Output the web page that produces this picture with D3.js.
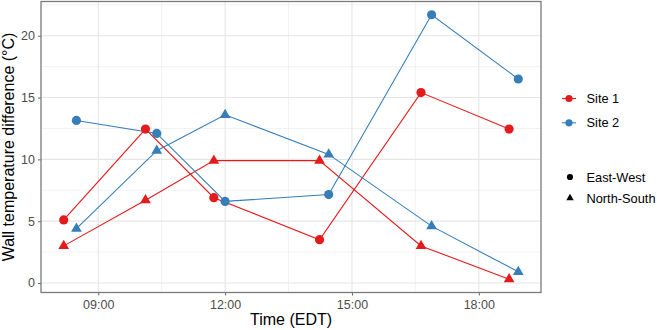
<!DOCTYPE html>
<html>
<head>
<meta charset="utf-8">
<script src="https://cdn.jsdelivr.net/npm/d3@7"></script>
<style>
  body { margin: 0; background: #fff; }
  text { font-family: "Liberation Sans", Arial, Helvetica, sans-serif; }
</style>
</head>
<body>
<div id="chart"></div>
<script>
// Data
const sites = ["Site 1", "Site 2"];
const orientations = ["East-West", "North-South"];
const siteColors = ["#E41A1C", "#377EB8"];

const site1Times = ["08:11", "10:07", "11:44", "14:14", "16:38", "18:43"];
const site2Times = ["08:29", "10:23", "12:00", "14:27", "16:53", "18:56"];

const site1EastWest = [5.1, 12.45, 6.9, 3.5, 15.4, 12.45];
const site1NorthSouth = [3.0, 6.7, 9.9, 9.9, 3.0, 0.3];
const site2EastWest = [13.15, 12.1, 6.6, 7.15, 21.7, 16.5];
const site2NorthSouth = [4.4, 10.7, 13.6, 10.4, 4.6, 0.9];

const xTicks = ["09:00", "12:00", "15:00", "18:00"];
const yTicks = [0, 5, 10, 15, 20];

// Build series
const parseTime = d3.timeParse("%H:%M");
const series = [
    { site: 0, shape: 0, times: site1Times, values: site1EastWest },
    { site: 0, shape: 1, times: site1Times, values: site1NorthSouth },
    { site: 1, shape: 0, times: site2Times, values: site2EastWest },
    { site: 1, shape: 1, times: site2Times, values: site2NorthSouth }
].map(s => ({
    ...s,
    points: s.times.map((t, i) => ({ t: parseTime(t), v: s.values[i] }))
}));

const allPoints = series.flatMap(s => s.points);

// Dimensions
const width = 657, height = 330;
const panel = { left: 41, right: 541, top: 1.5, bottom: 292.5 };

const svg = d3.select("#chart")
    .append("svg")
    .attr("width", width)
    .attr("height", height);

// ggplot style 5% expansion
function expand(ext) {
    const pad = (ext[1] - ext[0]) * 0.05;
    return [ext[0] - pad, ext[1] + pad];
}
const tExt = d3.extent(allPoints, d => +d.t);
const tDom = expand(tExt);
const x = d3.scaleTime()
    .domain([new Date(tDom[0]), new Date(tDom[1])])
    .range([panel.left, panel.right]);

const y = d3.scaleLinear()
    .domain(expand(d3.extent(allPoints, d => d.v)))
    .range([panel.bottom, panel.top]);

const xTickDates = xTicks.map(parseTime);
// minor gridlines halfway between majors
const xMinor = d3.pairs(xTickDates).map(([a, b]) => new Date((+a + +b) / 2));
const yMinor = [2.5, 7.5, 12.5, 17.5, 22.5];

const grid = svg.append("g");
grid.selectAll(".ymin").data(yMinor).join("line")
    .attr("x1", panel.left).attr("x2", panel.right)
    .attr("y1", d => y(d)).attr("y2", d => y(d))
    .attr("stroke", "#ededed").attr("stroke-width", 0.7);
grid.selectAll(".xmin").data(xMinor).join("line")
    .attr("y1", panel.top).attr("y2", panel.bottom)
    .attr("x1", d => x(d)).attr("x2", d => x(d))
    .attr("stroke", "#ededed").attr("stroke-width", 0.7);
grid.selectAll(".ymaj").data(yTicks).join("line")
    .attr("x1", panel.left).attr("x2", panel.right)
    .attr("y1", d => y(d)).attr("y2", d => y(d))
    .attr("stroke", "#e6e6e6").attr("stroke-width", 1.1);
grid.selectAll(".xmaj").data(xTickDates).join("line")
    .attr("y1", panel.top).attr("y2", panel.bottom)
    .attr("x1", d => x(d)).attr("x2", d => x(d))
    .attr("stroke", "#e6e6e6").attr("stroke-width", 1.1);

// Axes
const xAxis = svg.append("g")
    .attr("transform", `translate(0,${panel.bottom})`)
    .call(d3.axisBottom(x).tickValues(xTickDates).tickFormat(d3.timeFormat("%H:%M")).tickSize(3).tickPadding(4.5));
const yAxis = svg.append("g")
    .attr("transform", `translate(${panel.left},0)`)
    .call(d3.axisLeft(y).tickValues(yTicks).tickSize(3).tickPadding(3));
[xAxis, yAxis].forEach(a => {
    a.select(".domain").remove();
    a.selectAll(".tick line").attr("stroke", "#666").attr("stroke-width", 1);
    a.selectAll(".tick text").attr("fill", "#4d4d4d").style("font-size", "12.5px")
        .style("font-family", "'Liberation Sans', Arial, sans-serif");
});

// Panel border
svg.append("rect")
    .attr("x", panel.left).attr("y", panel.top)
    .attr("width", panel.right - panel.left)
    .attr("height", panel.bottom - panel.top)
    .attr("fill", "none").attr("stroke", "#7a7a7a").attr("stroke-width", 1.3);

// Axis titles
svg.append("text")
    .attr("x", (panel.left + panel.right) / 2)
    .attr("y", 325)
    .attr("text-anchor", "middle")
    .style("font-size", "16px")
    .attr("fill", "#000")
    .text("Time (EDT)");
svg.append("text")
    .attr("transform", `translate(13.5,${(panel.top + panel.bottom) / 2}) rotate(-90)`)
    .attr("text-anchor", "middle")
    .style("font-size", "16px")
    .attr("fill", "#000")
    .text("Wall temperature difference (°C)");

// Lines and points
const line = d3.line().x(d => x(d.t)).y(d => y(d.v));
const tri = d3.symbol().type(d3.symbolTriangle).size(50);
const triSmall = d3.symbol().type(d3.symbolTriangle).size(24);

const plot = svg.append("g");
series.forEach(s => {
    plot.append("path")
        .datum(s.points)
        .attr("d", line)
        .attr("fill", "none")
        .attr("stroke", siteColors[s.site])
        .attr("stroke-width", 1.1);
});
series.forEach(s => {
    const g = plot.append("g").attr("fill", siteColors[s.site]);
    if (s.shape === 0) {
        g.selectAll("circle").data(s.points).join("circle")
            .attr("cx", d => x(d.t)).attr("cy", d => y(d.v)).attr("r", 4.6);
    } else {
        g.selectAll("path").data(s.points).join("path")
            .attr("d", tri)
            .attr("transform", d => `translate(${x(d.t)},${y(d.v)})`);
    }
});

// Legend: sites
const legSite = svg.append("g").attr("transform", "translate(562,98.5)");
const siteItems = legSite.selectAll("g").data(sites).join("g")
    .attr("transform", (d, i) => `translate(0,${i * 24.3})`);
siteItems.append("line")
    .attr("x1", 0).attr("x2", 14)
    .attr("stroke", (d, i) => siteColors[i]).attr("stroke-width", 1.1);
siteItems.append("circle")
    .attr("cx", 7).attr("r", 3.6)
    .attr("fill", (d, i) => siteColors[i]);
siteItems.append("text")
    .attr("x", 24.5).attr("dy", "0.36em")
    .style("font-size", "12.8px")
    .text(d => d);

// Legend: orientation
const legShape = svg.append("g").attr("transform", "translate(562,177)");
const shapeItems = legShape.selectAll("g").data(orientations).join("g")
    .attr("transform", (d, i) => `translate(0,${i * 21})`);
shapeItems.each(function(d, i) {
    const g = d3.select(this);
    if (i === 0) {
        g.append("circle").attr("cx", 8).attr("r", 3.1).attr("fill", "#000");
    } else {
        g.append("path").attr("d", triSmall).attr("transform", "translate(8,0)").attr("fill", "#000");
    }
});
shapeItems.append("text")
    .attr("x", 24.5).attr("dy", "0.36em")
    .style("font-size", "12.8px")
    .text(d => d);
</script>
</body>
</html>
